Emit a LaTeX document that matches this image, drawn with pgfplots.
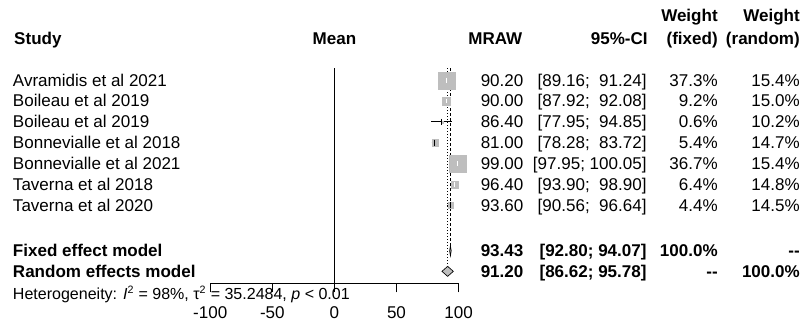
\documentclass[border=0pt]{standalone}
\usepackage{pgfplots}
\pgfplotsset{compat=1.18}
\usepackage{fontspec}
\setmainfont{Liberation Sans}
\definecolor{sqgray}{RGB}{190,190,190}
\newcommand{\fmain}{\fontsize{12.75}{15}\selectfont}
\newcommand{\fhet}{\fontsize{12}{14}\selectfont}

\begin{document}
\begin{tikzpicture}
\begin{axis}[
  x=0.93pt, y=0.75pt,
  xmin=-100, xmax=100, ymin=39, ymax=254,
  axis x line=bottom, axis y line=none,
  axis line style={-, black, line width=0.6pt},
  xtick={-100,-50,0,50,100},
  xticklabels={{-100},{-50},{0},{50},{100}},
  tick align=outside, major tick length=6.75pt,
  xtick style={black, line width=0.6pt},
  xticklabel style={font=\fmain, text=black},
  xticklabel shift=7pt,
  ytick=\empty,
  clip=false,
  sq/.style={only marks, mark=square*, color=sqgray, mark options={line width=0.1pt}},
]
% canvas
\path (axis cs:-269.35,0) rectangle (axis cs:377.4,322);
% reference lines
\addplot[black, line width=0.6pt] coordinates {(0,254) (0,39)};
\addplot[black, line width=0.7pt, dash pattern=on 2.25pt off 1.5pt] coordinates {(93.43,254) (93.43,76.5)};
\addplot[black, line width=0.7pt, dash pattern=on 0.75pt off 1.5pt] coordinates {(91.20,254) (91.20,56)};
% squares (area proportional to fixed weight)
\addplot[sq, mark size=6.375pt] coordinates {(90.20,242.0)};
\addplot[sq, mark size=3.165pt] coordinates {(90.00,221.2)};
\addplot[sq, mark size=0.810pt] coordinates {(86.40,200.4)};
\addplot[sq, mark size=2.430pt] coordinates {(81.00,179.6)};
\addplot[sq, mark size=6.320pt] coordinates {(99.00,158.8)};
\addplot[sq, mark size=2.640pt] coordinates {(96.40,138.0)};
\addplot[sq, mark size=2.190pt] coordinates {(93.60,117.2)};
% CIs outside squares (black)
\addplot[black, line width=0.75pt] coordinates {(77.95,200.4) (94.85,200.4)};
\addplot[black, line width=0.75pt] coordinates {(78.28,179.6) (83.72,179.6)};
\addplot[black, line width=0.75pt] coordinates {(90.56,117.2) (96.64,117.2)};
\addplot[black, only marks, mark=|, mark size=2.2pt, mark options={line width=0.75pt}] coordinates {(86.40,200.4) (81.00,179.6) (93.60,117.2)};
% CIs inside squares (white)
\addplot[white, line width=0.75pt] coordinates {(89.16,242.0) (91.24,242.0)};
\addplot[white, line width=0.75pt] coordinates {(87.92,221.2) (92.08,221.2)};
\addplot[white, line width=0.75pt] coordinates {(97.95,158.8) (100.05,158.8)};
\addplot[white, line width=0.75pt] coordinates {(93.90,138.0) (98.90,138.0)};
\addplot[white, only marks, mark=|, mark size=1.8pt, mark options={line width=0.75pt}] coordinates {(90.20,242.0) (90.00,221.2) (99.00,158.8) (96.40,138.0)};
% summary diamonds
\addplot[fill=sqgray, draw=black, line width=0.5pt] coordinates {(92.80,71.5) (93.43,76.5) (94.07,71.5) (93.43,66.5)} -- cycle;
\addplot[fill=sqgray, draw=black, line width=0.5pt] coordinates {(86.62,51) (91.20,56) (95.78,51) (91.20,46)} -- cycle;

% headers
\begin{scope}[every node/.style={font=\fmain\bfseries, inner sep=0pt}]
\node[anchor=base west] at (axis cs:-258.1,278) {Study};
\node[anchor=base] at (axis cs:0,278) {Mean};
\node[anchor=base east] at (axis cs:151.5,278) {MRAW};
\node[anchor=base east] at (axis cs:252.5,278) {95\%-CI};
\node[anchor=base east] at (axis cs:308.9,301) {Weight};
\node[anchor=base east] at (axis cs:308.9,278) {(fixed)};
\node[anchor=base east] at (axis cs:375,301) {Weight};
\node[anchor=base east] at (axis cs:375,278) {(random)};
\end{scope}

% study rows
\begin{scope}[every node/.style={font=\fmain, inner sep=0pt}]
\node[anchor=base west] at (axis cs:-259.1,236.0) {Avramidis et al 2021};
\node[anchor=base west] at (axis cs:-259.1,215.2) {Boileau et al 2019};
\node[anchor=base west] at (axis cs:-259.1,194.4) {Boileau et al 2019};
\node[anchor=base west] at (axis cs:-259.1,173.6) {Bonnevialle et al 2018};
\node[anchor=base west] at (axis cs:-259.1,152.8) {Bonnevialle et al 2021};
\node[anchor=base west] at (axis cs:-259.1,132.0) {Taverna et al 2018};
\node[anchor=base west] at (axis cs:-259.1,111.2) {Taverna et al 2020};

\node[anchor=base east] at (axis cs:152.4,236.0) {90.20};
\node[anchor=base east] at (axis cs:152.4,215.2) {90.00};
\node[anchor=base east] at (axis cs:152.4,194.4) {86.40};
\node[anchor=base east] at (axis cs:152.4,173.6) {81.00};
\node[anchor=base east] at (axis cs:152.4,152.8) {99.00};
\node[anchor=base east] at (axis cs:152.4,132.0) {96.40};
\node[anchor=base east] at (axis cs:152.4,111.2) {93.60};

\node[anchor=base east] at (axis cs:251.6,236.0) {[89.16;\ \ 91.24]};
\node[anchor=base east] at (axis cs:251.6,215.2) {[87.92;\ \ 92.08]};
\node[anchor=base east] at (axis cs:251.6,194.4) {[77.95;\ \ 94.85]};
\node[anchor=base east] at (axis cs:251.6,173.6) {[78.28;\ \ 83.72]};
\node[anchor=base east] at (axis cs:251.6,152.8) {[97.95; 100.05]};
\node[anchor=base east] at (axis cs:251.6,132.0) {[93.90;\ \ 98.90]};
\node[anchor=base east] at (axis cs:251.6,111.2) {[90.56;\ \ 96.64]};

\node[anchor=base east] at (axis cs:308.9,236.0) {37.3\%};
\node[anchor=base east] at (axis cs:308.9,215.2) {9.2\%};
\node[anchor=base east] at (axis cs:308.9,194.4) {0.6\%};
\node[anchor=base east] at (axis cs:308.9,173.6) {5.4\%};
\node[anchor=base east] at (axis cs:308.9,152.8) {36.7\%};
\node[anchor=base east] at (axis cs:308.9,132.0) {6.4\%};
\node[anchor=base east] at (axis cs:308.9,111.2) {4.4\%};

\node[anchor=base east] at (axis cs:375,236.0) {15.4\%};
\node[anchor=base east] at (axis cs:375,215.2) {15.0\%};
\node[anchor=base east] at (axis cs:375,194.4) {10.2\%};
\node[anchor=base east] at (axis cs:375,173.6) {14.7\%};
\node[anchor=base east] at (axis cs:375,152.8) {15.4\%};
\node[anchor=base east] at (axis cs:375,132.0) {14.8\%};
\node[anchor=base east] at (axis cs:375,111.2) {14.5\%};
\end{scope}

% summary rows
\begin{scope}[every node/.style={font=\fmain\bfseries, inner sep=0pt}]
\node[anchor=base west] at (axis cs:-259.1,65.5) {Fixed effect model};
\node[anchor=base west] at (axis cs:-259.1,45) {Random effects model};
\node[anchor=base east] at (axis cs:152.4,65.5) {93.43};
\node[anchor=base east] at (axis cs:152.4,45) {91.20};
\node[anchor=base east] at (axis cs:251.6,65.5) {[92.80; 94.07]};
\node[anchor=base east] at (axis cs:251.6,45) {[86.62; 95.78]};
\node[anchor=base east] at (axis cs:308.9,65.5) {100.0\%};
\node[anchor=base east] at (axis cs:308.9,45) {-{}-};
\node[anchor=base east] at (axis cs:375,65.5) {-{}-};
\node[anchor=base east] at (axis cs:375,45) {100.0\%};
\end{scope}

\node[anchor=base west, font=\fhet, inner sep=0pt] at (axis cs:-259.1,22.6)
  {Heterogeneity: \textit{I}\textsuperscript{2} = 98\%, τ\textsuperscript{2} = 35.2484, \textit{p} < 0.01};
\end{axis}
\end{tikzpicture}
\end{document}
